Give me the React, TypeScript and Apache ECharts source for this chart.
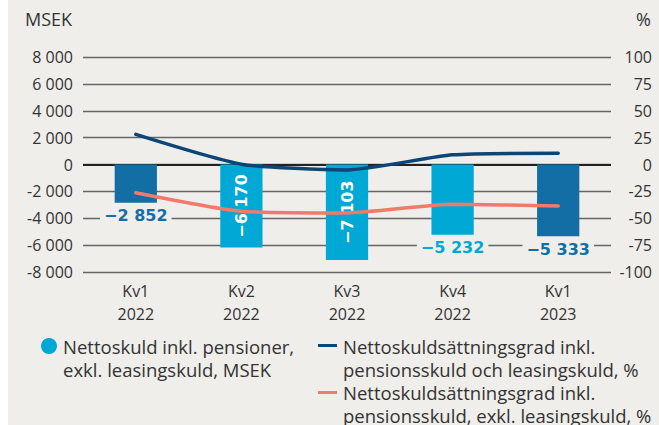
import React, { useEffect, useRef } from "react";
import * as echarts from "echarts";

const quarters = ["Kv1", "Kv2", "Kv3", "Kv4", "Kv1"];
const years = ["2022", "2022", "2022", "2022", "2023"];
const netDebt = [-2852, -6170, -7103, -5232, -5333];
const gearingInclLeasing = [28, 0.3, -5, 9, 10.5];
const gearingExclLeasing = [-26.3, -43.5, -45, -37, -38.5];
const leftTicks = { min: -8000, max: 8000, interval: 2000 };
const rightTicks = { min: -100, max: 100, interval: 25 };

const barName = "Nettoskuld inkl. pensioner,\nexkl. leasingskuld, MSEK";
const line1Name = "Nettoskuldsättningsgrad inkl.\npensionsskuld och leasingskuld, %";
const line2Name = "Nettoskuldsättningsgrad inkl.\npensionsskuld, exkl. leasingskuld, %";

const BG = "#efeeeb";
const DARK = "#146ea6";
const LIGHT = "#00a8d6";
const NAVY = "#0c4677";
const SALMON = "#f17a6b";
const TEXT = "#333333";
const AXIS_FONT = "'Open Sans', sans-serif";
const LEGEND_FONT = "'Open Sans', sans-serif";

// style per bar: dark for Kv1 quarters, rotated label inside for tall bars
const barDark = [true, false, false, false, true];
const labelInside = [false, true, true, false, false];

const fmt = (v: number) => {
  const s = Math.abs(v).toString().replace(/\B(?=(\d{3})+(?!\d))/g, " ");
  return v < 0 ? "-" + s : s;
};
const fmtBar = (v: number) => {
  const s = Math.abs(v).toString().replace(/\B(?=(\d{3})+(?!\d))/g, " ");
  return v < 0 ? "\u2212" + s : s;
};

export default function App() {
  const ref = useRef<HTMLDivElement>(null);
  useEffect(() => {
    if (!ref.current) return;
    const chart = echarts.init(ref.current, undefined, { renderer: "svg" });
    const barData = netDebt.map((v, i) => {
      const color = barDark[i] ? DARK : LIGHT;
      return {
        value: v,
        itemStyle: { color },
        label: labelInside[i]
          ? {
              show: true,
              position: "inside",
              rotate: 90,
              color: "#ffffff",
              fontSize: 16,
              fontWeight: "bold",
              fontFamily: "'DejaVu Sans', sans-serif",
              formatter: (p: any) => fmtBar(p.value),
            }
          : {
              show: true,
              position: "bottom",
              distance: 5,
              color,
              fontSize: 16,
              fontWeight: "bold",
              fontFamily: "'DejaVu Sans', sans-serif",
              backgroundColor: BG,
              padding: [0, 4, 0, 4],
              formatter: (p: any) => fmtBar(p.value),
            },
      };
    });

    const legendText = (x: number, y: number, text: string) => ({
      type: "text",
      x,
      y,
      style: {
        text,
        fill: TEXT,
        font: `18.5px ${LEGEND_FONT}`,
        lineHeight: 23,
        textVerticalAlign: "top",
        verticalAlign: "top",
      },
    });

    chart.setOption({
      animation: false,
      backgroundColor: "transparent",
      grid: { left: 83, right: 48, top: 57, bottom: 153 },
      xAxis: {
        type: "category",
        data: quarters.map((q, i) => q + "\n" + years[i]),
        axisLine: { show: false },
        axisTick: { show: false },
        axisLabel: {
          color: TEXT,
          fontSize: 16,
          fontFamily: AXIS_FONT,
          lineHeight: 23,
          margin: 7,
        },
      },
      yAxis: [
        {
          type: "value",
          ...leftTicks,
          axisLine: { show: false },
          axisTick: { show: false },
          splitLine: { lineStyle: { color: "#666666", width: 1.3 } },
          axisLabel: {
            color: TEXT,
            fontSize: 16,
            fontFamily: AXIS_FONT,
            margin: 10,
            formatter: (v: number) => fmt(v),
          },
        },
        {
          type: "value",
          ...rightTicks,
          position: "right",
          axisLine: { show: false },
          axisTick: { show: false },
          splitLine: { show: false },
          axisLabel: {
            color: TEXT,
            fontSize: 16,
            fontFamily: AXIS_FONT,
            align: "right",
            margin: 41,
            formatter: (v: number) => fmt(v),
          },
        },
      ],
      series: [
        {
          name: barName,
          type: "bar",
          data: barData,
          barWidth: "40%",
          z: 2,
          markLine: {
            silent: true,
            symbol: "none",
            label: { show: false },
            lineStyle: { color: "#222", width: 2, type: "solid" },
            data: [{ yAxis: 0 }],
            z: 1,
          },
        },
        {
          name: line1Name,
          type: "line",
          yAxisIndex: 1,
          data: gearingInclLeasing,
          smooth: 0.2,
          symbol: "none",
          lineStyle: { color: NAVY, width: 3.5, cap: "round" },
          z: 4,
        },
        {
          name: line2Name,
          type: "line",
          yAxisIndex: 1,
          data: gearingExclLeasing,
          smooth: 0.2,
          symbol: "none",
          lineStyle: { color: SALMON, width: 3.5, cap: "round" },
          z: 4,
        },
      ],
      graphic: [
        {
          type: "rect",
          shape: { x: 0, y: 0, width: 8, height: 425 },
          style: { fill: "#ffffff" },
          z: -10,
        },
        {
          type: "text",
          x: 25,
          y: 19,
          style: {
            text: "MSEK",
            fill: TEXT,
            font: `18px ${AXIS_FONT}`,
            textVerticalAlign: "middle",
            verticalAlign: "middle",
          },
        },
        {
          type: "text",
          x: 651,
          y: 19,
          style: {
            text: "%",
            fill: TEXT,
            font: `18px ${AXIS_FONT}`,
            align: "right",
            textAlign: "right",
            textVerticalAlign: "middle",
            verticalAlign: "middle",
          },
        },
        { type: "circle", shape: { cx: 49, cy: 346, r: 8 }, style: { fill: LIGHT } },
        legendText(63, 335, barName),
        { type: "rect", shape: { x: 318, y: 344, width: 19, height: 3 }, style: { fill: NAVY } },
        legendText(343, 335, line1Name),
        { type: "rect", shape: { x: 318, y: 391, width: 19, height: 3 }, style: { fill: SALMON } },
        legendText(343, 381, line2Name),
      ],
    });
    return () => chart.dispose();
  }, []);
  return (
    <div
      ref={ref}
      style={{
        position: "fixed",
        left: 0,
        top: 0,
        width: 659,
        height: 425,
        background: `linear-gradient(to right, #ffffff 8px, ${BG} 8px)`,
      }}
    />
  );
}
